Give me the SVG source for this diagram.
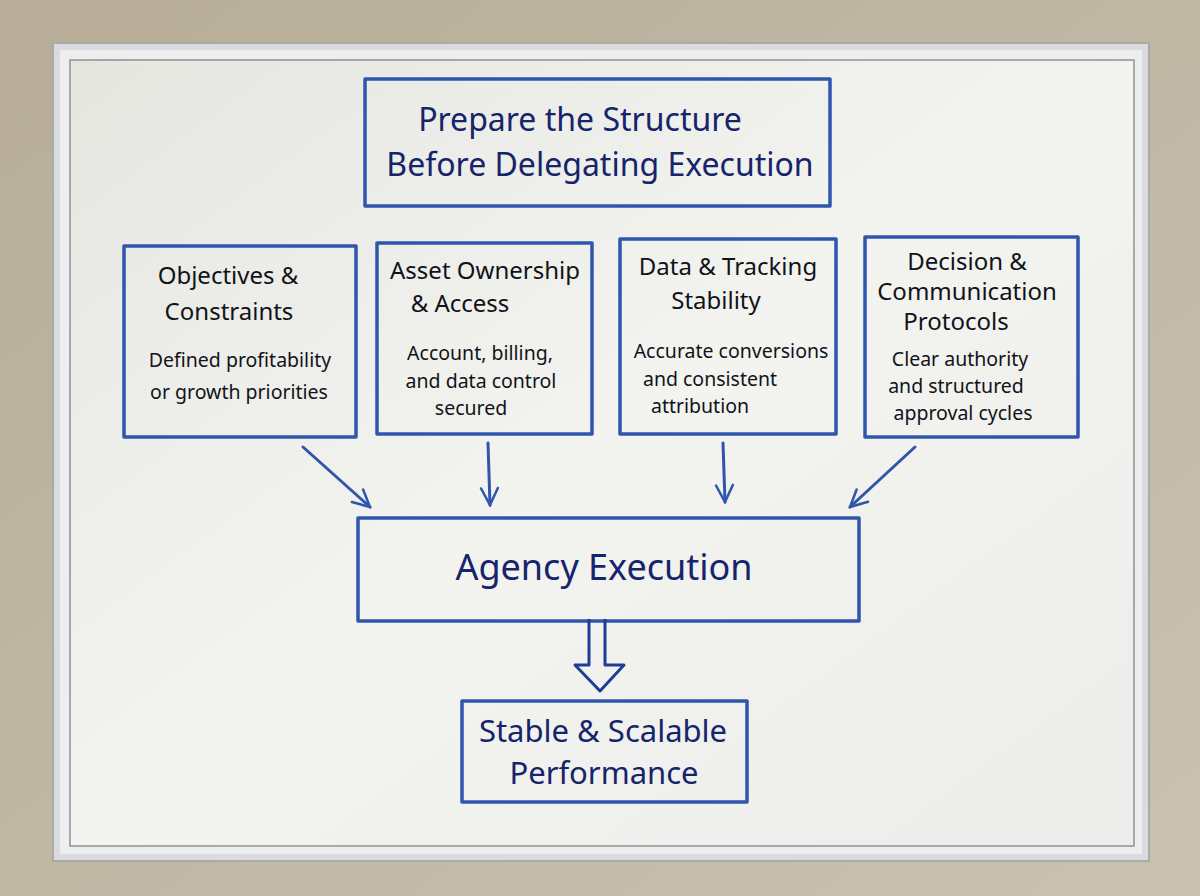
<svg xmlns="http://www.w3.org/2000/svg" width="1200" height="896" viewBox="0 0 1200 896">
<style>
.box{fill:none;stroke:#2f55ad;stroke-width:3.5;stroke-linejoin:round}
.t{font-family:"Noto Sans","Open Sans",sans-serif;fill:#16246b;text-anchor:middle}
.k{fill:#111318}
.h{font-size:24px}
.b{font-size:19.5px}
.c{stroke:#2f55ad;stroke-width:3;fill:none;stroke-linecap:round}
</style>
<defs>
<marker id="ah" viewBox="0 0 20 20" refX="18" refY="10" markerWidth="7" markerHeight="7" orient="auto" markerUnits="strokeWidth">
<path d="M2,2 L18,10 L2,18" fill="none" stroke="#2f55ad" stroke-width="2.4" stroke-linecap="round"/>
</marker>
<linearGradient id="wall" x1="0" y1="0" x2="1" y2="1"><stop offset="0" stop-color="#b7ad98"/><stop offset="1" stop-color="#c9c2b2"/></linearGradient>
<linearGradient id="board" x1="0" y1="0" x2="1" y2="1"><stop offset="0" stop-color="#e6e6e1"/><stop offset="0.5" stop-color="#f3f3f0"/><stop offset="1" stop-color="#ececea"/></linearGradient>
</defs>
<rect width="1200" height="896" fill="url(#wall)"/>
<rect x="53" y="43" width="1096" height="818" fill="#d9dbdc" stroke="#a9abab" stroke-width="2"/>
<rect x="60" y="50" width="1082" height="804" fill="#eceeef"/>
<rect x="70" y="60" width="1064" height="786" fill="url(#board)" stroke="#8f9193" stroke-width="1.5"/>
<g id="title">
<rect class="box" x="365" y="79" width="465" height="127"/>
<text class="t" x="580" y="131" font-size="32">Prepare the Structure</text>
<text class="t" x="600" y="176" font-size="32">Before Delegating Execution</text>
</g>
<g id="objectives">
<rect class="box" x="124" y="246" width="232" height="191"/>
<text class="t h k" x="228" y="284">Objectives &amp;</text>
<text class="t h k" x="229" y="320">Constraints</text>
<text class="t b k" x="240" y="367">Defined profitability</text>
<text class="t b k" x="239" y="399">or growth priorities</text>
</g>
<g id="assets">
<rect class="box" x="377" y="243" width="215" height="191"/>
<text class="t h k" x="485" y="279">Asset Ownership</text>
<text class="t h k" x="460" y="312">&amp; Access</text>
<text class="t b k" x="480" y="360">Account, billing,</text>
<text class="t b k" x="481" y="388">and data control</text>
<text class="t b k" x="471" y="415">secured</text>
</g>
<g id="data">
<rect class="box" x="620" y="239" width="216" height="195"/>
<text class="t h k" x="728" y="275">Data &amp; Tracking</text>
<text class="t h k" x="716" y="309">Stability</text>
<text class="t b k" x="731" y="358">Accurate conversions</text>
<text class="t b k" x="710" y="386">and consistent</text>
<text class="t b k" x="700" y="413">attribution</text>
</g>
<g id="decision">
<rect class="box" x="865" y="237" width="213" height="200"/>
<text class="t h k" x="967" y="270">Decision &amp;</text>
<text class="t h k" x="967" y="300">Communication</text>
<text class="t h k" x="956" y="330">Protocols</text>
<text class="t b k" x="960" y="366">Clear authority</text>
<text class="t b k" x="956" y="393">and structured</text>
<text class="t b k" x="963" y="420">approval cycles</text>
</g>
<g id="agency">
<rect class="box" x="358" y="518" width="501" height="103"/>
<text class="t" x="604" y="580" font-size="36">Agency Execution</text>
</g>
<g id="performance">
<rect class="box" x="462" y="701" width="285" height="101"/>
<text class="t" x="603" y="742" font-size="31">Stable &amp; Scalable</text>
<text class="t" x="604" y="784" font-size="31">Performance</text>
</g>
<g id="connectors">
<path class="c" d="M303,447 L370,507" marker-end="url(#ah)"/>
<path class="c" d="M488,443 L490,505" marker-end="url(#ah)"/>
<path class="c" d="M723,443 L725,502" marker-end="url(#ah)"/>
<path class="c" d="M915,447 L850,507" marker-end="url(#ah)"/>
<path d="M589,619 L589,665 L575,665 L600,691 L624,665 L605,665 L605,619" fill="none" stroke="#1f3d95" stroke-width="3" stroke-linejoin="round"/>
</g>
</svg>
